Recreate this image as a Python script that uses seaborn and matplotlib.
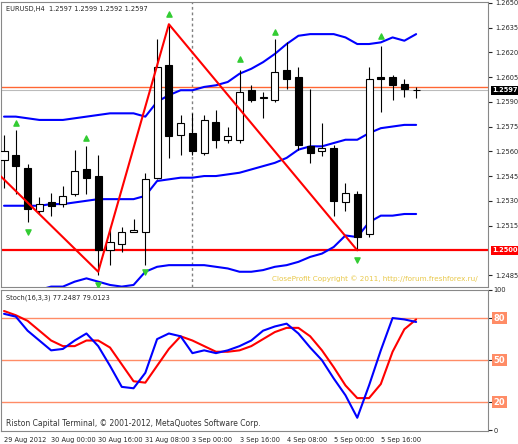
import numpy as np
import matplotlib.pyplot as plt
import seaborn as sns
import pandas as pd

sns.set_style('white')
plt.rcParams['font.family'] = ['DejaVu Sans']

# H4 candles
opens = [1.2555,1.2558,1.2550,1.2524,1.2529,1.2528,1.2534,1.2549,1.2545,1.2500,1.2504,1.2511,
         1.2511,1.2544,1.2612,1.2570,1.2571,1.2559,1.2578,1.2567,1.2567,1.2597,1.2592,1.2591,
         1.2609,1.2605,1.2563,1.2560,1.2562,1.2529,1.2534,1.2510,1.2605,1.2605,1.2601,1.2597]
highs = [1.2570,1.2573,1.2552,1.2532,1.2535,1.2539,1.2561,1.2563,1.2558,1.2514,1.2514,1.2519,
         1.2547,1.2628,1.2637,1.2582,1.2583,1.2582,1.2585,1.2575,1.2609,1.2600,1.2596,1.2628,
         1.2626,1.2611,1.2598,1.2577,1.2564,1.2541,1.2536,1.2611,1.2624,1.2606,1.2604,1.2599]
lows = [1.2538,1.2534,1.2517,1.2522,1.2521,1.2526,1.2533,1.2534,1.2485,1.2491,1.2499,1.2511,
        1.2491,1.2543,1.2556,1.2558,1.2558,1.2558,1.2562,1.2565,1.2565,1.2590,1.2580,1.2590,
        1.2598,1.2561,1.2553,1.2557,1.2521,1.2524,1.2500,1.2508,1.2584,1.2591,1.2593,1.2592]
closes = [1.2560,1.2551,1.2525,1.2528,1.2527,1.2533,1.2548,1.2544,1.2500,1.2505,1.2511,1.2512,
          1.2543,1.2611,1.2569,1.2577,1.2560,1.2579,1.2567,1.2569,1.2596,1.2591,1.2593,1.2608,
          1.2604,1.2564,1.2559,1.2562,1.2530,1.2535,1.2508,1.2604,1.2604,1.2600,1.2598,1.2597]

bb_upper = [1.2581,1.2581,1.2580,1.2579,1.2579,1.2579,1.2580,1.2581,1.2582,1.2583,1.2583,1.2583,
            1.2581,1.2590,1.2594,1.2597,1.2597,1.2599,1.2600,1.2602,1.2607,1.2610,1.2614,1.2619,
            1.2625,1.2630,1.2631,1.2631,1.2631,1.2629,1.2625,1.2625,1.2626,1.2629,1.2627,1.2631]
bb_mid = [1.2527,1.2527,1.2527,1.2527,1.2528,1.2528,1.2529,1.2530,1.2531,1.2531,1.2531,1.2531,
          1.2533,1.2542,1.2543,1.2544,1.2544,1.2545,1.2545,1.2546,1.2547,1.2549,1.2551,1.2553,
          1.2556,1.2561,1.2563,1.2563,1.2565,1.2567,1.2567,1.2571,1.2574,1.2575,1.2576,1.2576]
bb_lower = [1.2470,1.2472,1.2474,1.2476,1.2478,1.2478,1.2481,1.2483,1.2481,1.2479,1.2478,1.2479,
            1.2487,1.2490,1.2491,1.2491,1.2491,1.2491,1.2490,1.2489,1.2487,1.2487,1.2488,1.2490,
            1.2491,1.2493,1.2496,1.2498,1.2502,1.2509,1.2508,1.2517,1.2521,1.2521,1.2522,1.2522]

zz_bar = [-0.3, 8, 14, 30]
zz_price = [1.2545, 1.2487, 1.2637, 1.2500]

up_bar = [1, 7, 14, 20, 23, 32]
up_price = [1.2577, 1.2568, 1.2643, 1.2616, 1.2632, 1.2630]
dn_bar = [2, 8, 12, 30]
dn_price = [1.2511, 1.2479, 1.2487, 1.2494]

stoch_k = [83,81,71,64,57,58,64,69,60,46,31,30,41,65,69,67,55,57,55,57,60,64,71,74,76,69,
           59,50,37,25,9,32,57,80,79,77.2]
stoch_d = [85,82,78,71,64,60,60,64,64,59,47,35,34,46,58,67,64,60,56,56,57,60,65,70,73,73,
           67,57,45,32,23,23,33,56,72,79.0]

time_ticks = [0, 4, 8, 12, 16, 20, 24, 28, 32]
time_labels = ['29 Aug 2012', '30 Aug 00:00', '30 Aug 16:00', '31 Aug 08:00', '3 Sep 00:00',
               '3 Sep 16:00', '4 Sep 08:00', '5 Sep 00:00', '5 Sep 16:00']
price_ticks = [1.2485, 1.2515, 1.2530, 1.2545, 1.2560, 1.2575, 1.2590, 1.2605, 1.2620, 1.2635, 1.2650]

bars = np.arange(len(opens))
df = pd.DataFrame({'bar': bars, 'upper': bb_upper, 'mid': bb_mid, 'lower': bb_lower,
                   'k': stoch_k, 'd': stoch_d})

fig = plt.figure(figsize=(5.18, 4.44), dpi=100)
ax = fig.add_axes([0.002, 0.353, 0.94, 0.643])
ax2 = fig.add_axes([0.002, 0.029, 0.94, 0.318])
xlim = (-0.254, 41.1)
fs = 4.8

# main price panel
ax.axvline(16, color='grey', ls=(0, (2, 2)), lw=1)
ax.axhline(1.2599, color='#ff6633', lw=1)
ax.axhline(1.2597, color='#bbbbbb', lw=0.8)
ax.axhline(1.2500, color='red', lw=1.6)
for col in ['upper', 'mid', 'lower']:
    sns.lineplot(data=df, x='bar', y=col, ax=ax, color='#0000ff', lw=1.5)
ax.vlines(bars, lows, highs, color='black', lw=0.8)
body = np.array(closes) - np.array(opens)
body = np.where(np.abs(body) < 0.00004, 0.00004, body)
fc = ['white' if c >= o else 'black' for o, c in zip(opens, closes)]
ax.bar(bars, body, bottom=opens, width=0.6, color=fc, edgecolor='black', lw=0.8, zorder=3)
ax.plot(zz_bar, zz_price, color='red', lw=1.5, zorder=4)
ax.scatter(up_bar, up_price, marker='^', s=14, color='#33cc33', zorder=5)
ax.scatter(dn_bar, dn_price, marker='v', s=14, color='#33cc33', zorder=5)
ax.set_xlim(*xlim)
ax.set_ylim(1.24776, 1.26506)
ax.set_xticks([])
ax.yaxis.tick_right()
ax.set_yticks(price_ticks)
ax.set_yticklabels([f'{p:.4f}' for p in price_ticks], fontsize=fs)
ax.tick_params(axis='y', length=3, pad=2)
ax.set_xlabel('')
ax.set_ylabel('')
for lbl, val, bg in [('1.2597', 1.2597, 'black'), ('1.2500', 1.2500, 'red')]:
    ax.text(1.008, val, lbl, transform=ax.get_yaxis_transform(), fontsize=fs, color='white',
            va='center', ha='left', fontweight='bold',
            bbox=dict(boxstyle='square,pad=0.2', fc=bg, ec='none'))
ax.text(0.01, 0.985, 'EURUSD,H4  1.2597 1.2599 1.2592 1.2597', transform=ax.transAxes,
        fontsize=fs, va='top')
ax.text(0.98, 0.02, 'CloseProfit Copyright © 2011, http://forum.freshforex.ru/',
        transform=ax.transAxes, fontsize=5.2, color='#e8c84a', ha='right', va='bottom')

# stochastic panel
for lv in [20, 50, 80]:
    ax2.axhline(lv, color='#ff8c66', lw=1)
sns.lineplot(data=df, x='bar', y='d', ax=ax2, color='red', lw=1.5)
sns.lineplot(data=df, x='bar', y='k', ax=ax2, color='#0000ff', lw=1.5)
ax2.set_xlim(*xlim)
ax2.set_ylim(-0.5, 100)
ax2.yaxis.tick_right()
ax2.set_yticks([0, 20, 50, 80, 100])
ax2.set_yticklabels(['0', '', '', '', '100'], fontsize=fs)
for lv in [20, 50, 80]:
    ax2.text(1.012, lv, str(lv), transform=ax2.get_yaxis_transform(), fontsize=6, color='white',
             va='center', ha='left', fontweight='bold',
             bbox=dict(boxstyle='square,pad=0.2', fc='#ff8c66', ec='none'))
ax2.set_xticks(time_ticks)
ax2.set_xticklabels(time_labels, fontsize=fs, ha='left')
ax2.tick_params(axis='both', length=3, pad=1)
ax2.set_xlabel('')
ax2.set_ylabel('')
ax2.text(0.01, 0.97, 'Stoch(16,3,3) 77.2487 79.0123', transform=ax2.transAxes, fontsize=fs, va='top')
ax2.text(0.01, 0.02, 'Riston Capital Terminal, © 2001-2012, MetaQuotes Software Corp.',
         transform=ax2.transAxes, fontsize=5.5, va='bottom', color='#333333')

for a in (ax, ax2):
    for s in a.spines.values():
        s.set_color('#888888')
        s.set_linewidth(0.8)

fig.savefig('out.png', dpi=100)
